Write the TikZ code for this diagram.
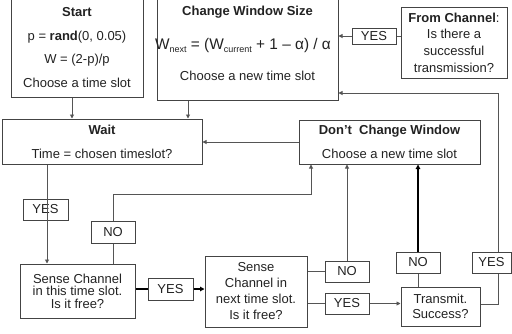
\documentclass[tikz,border=0pt]{standalone}
\usepackage{fontspec}
\setmainfont{Liberation Sans}
\usetikzlibrary{arrows.meta}
\definecolor{ln}{HTML}{555555}
\definecolor{bd}{HTML}{444444}
\definecolor{tx}{HTML}{222222}
\newcommand\sbs[1]{\raisebox{-3pt}{\fontsize{9}{9}\selectfont #1}}
\begin{document}
\begin{tikzpicture}[x=1pt,y=-1pt,
  box/.style={draw=bd, line width=1pt, inner sep=0pt, align=center, text=tx,
    font=\fontsize{13}{24}\selectfont},
  conn/.style={draw=ln, line width=0.9pt},
  arr/.style={conn, -{Triangle[length=4pt,width=4pt]}},
  heavy/.style={draw=black, line width=1.8pt},
  heavyarr/.style={heavy, -{Triangle[length=4.5pt,width=4.5pt]}}]
\useasboundingbox (0,0) rectangle (512,333);
% helper coordinates
\coordinate (c1) at (72,0);
\coordinate (c2) at (188,0);
\coordinate (c3) at (47,0);
\coordinate (c5) at (311,0);
\coordinate (c8) at (498,0);
\coordinate (y93) at (0,93);
\coordinate (y194) at (0,194);
\coordinate (y304) at (0,304);
% boxes
\node[box, minimum width=132pt, minimum height=99pt, font=\fontsize{13}{23.7}\selectfont] (start) at (77,47.5)
  {\textbf{Start}\\p = \textbf{rand}(0, 0.05)\\W = (2-p)/p\\Choose a time slot};
\node[box, minimum width=181pt, minimum height=113pt, font=\fontsize{13}{31}\selectfont] (change) at (247.5,43.5)
  {\textbf{Change Window Size}\\[3pt]\makebox[0pt]{\hspace*{-9pt}\fontsize{15.4}{15.4}\selectfont W\sbs{next} = (W\sbs{current} + 1 – α) / α}\\Choose a new time slot};
\node[box, minimum width=106pt, minimum height=71pt, font=\fontsize{13}{16.7}\selectfont] (from) at (454,42.5)
  {\textbf{From Channel}:\\Is there a\\successful\\transmission?};
\node[box, minimum width=44pt, minimum height=16pt] (yes1) at (374,36) {YES};
\node[box, minimum width=200pt, minimum height=45pt] (wait) at (102,141.5)
  {\textbf{Wait}\\Time = chosen timeslot?};
\node[box, minimum width=181pt, minimum height=44pt] (dont) at (389.5,142)
  {\textbf{Don’t\ \ Change Window}\\Choose a new time slot};
\node[box, minimum width=45pt, minimum height=21pt] (yes2) at (45.5,209.5) {YES};
\node[box, minimum width=44pt, minimum height=22pt] (no1) at (113,232) {NO};
\node[box, minimum width=115pt, minimum height=54pt, font=\fontsize{13}{12.5}\selectfont] (sense1) at (77.5,291)
  {Sense Channel\\in this time slot.\\Is it free?};
\node[box, minimum width=45pt, minimum height=22pt] (yes3) at (170.5,289) {YES};
\node[box, minimum width=102pt, minimum height=71pt, font=\fontsize{13}{16}\selectfont] (sense2) at (256,291.5)
  {Sense\\Channel in\\next time slot.\\Is it free?};
\node[box, minimum width=44pt, minimum height=21pt] (no2) at (347,271.5) {NO};
\node[box, minimum width=44pt, minimum height=21pt] (yes4) at (347,303.5) {YES};
\node[box, minimum width=79pt, minimum height=39pt, font=\fontsize{13}{15}\selectfont] (transmit) at (440.5,306.5)
  {Transmit.\\Success?};
\node[box, minimum width=44pt, minimum height=21pt] (no3) at (418,262.5) {NO};
\node[box, minimum width=39pt, minimum height=21pt] (yes5) at (491.5,262.5) {YES};
% connectors
\draw[arr] (start.south -| c1) -- (wait.north -| c1);
\draw[arr] (change.south -| c2) -- (wait.north -| c2);
\draw[conn] (from.west |- yes1.east) -- (yes1.east);
\draw[arr] (yes1.west) -- (change.east |- yes1.west);
\draw[arr] (yes5.north -| c8) -- (c8 |- y93) -- (change.east |- y93);
\draw[arr] (dont.west) -- (wait.east |- dont.west);
\draw[conn] (wait.south -| c3) -- (yes2.south -| c3);
\draw[arr] (yes2.south -| c3) -- (sense1.north -| c3);
\draw[conn] (sense1.north -| no1.south) -- (no1.south);
\draw[arr] (no1.north) -- (no1.north |- y194) -- (c5 |- y194) -- (dont.south -| c5);
\draw[heavy] (sense1.east |- yes3.west) -- (yes3.west);
\draw[heavyarr] (yes3.east) -- (sense2.west |- yes3.east);
\draw[conn] (sense2.east |- no2.west) -- (no2.west);
\draw[arr] (no2.north) -- (dont.south -| no2.north);
\draw[conn] (sense2.east |- yes4.west) -- (yes4.west);
\draw[arr] (yes4.east) -- (transmit.west |- yes4.east);
\draw[conn] (transmit.north -| no3.south) -- (no3.south);
\draw[heavyarr] (no3.north) -- (dont.south -| no3.north);
\draw[conn] (transmit.east |- y304) -- (c8 |- y304) -- (yes5.south -| c8);
\end{tikzpicture}
\end{document}
